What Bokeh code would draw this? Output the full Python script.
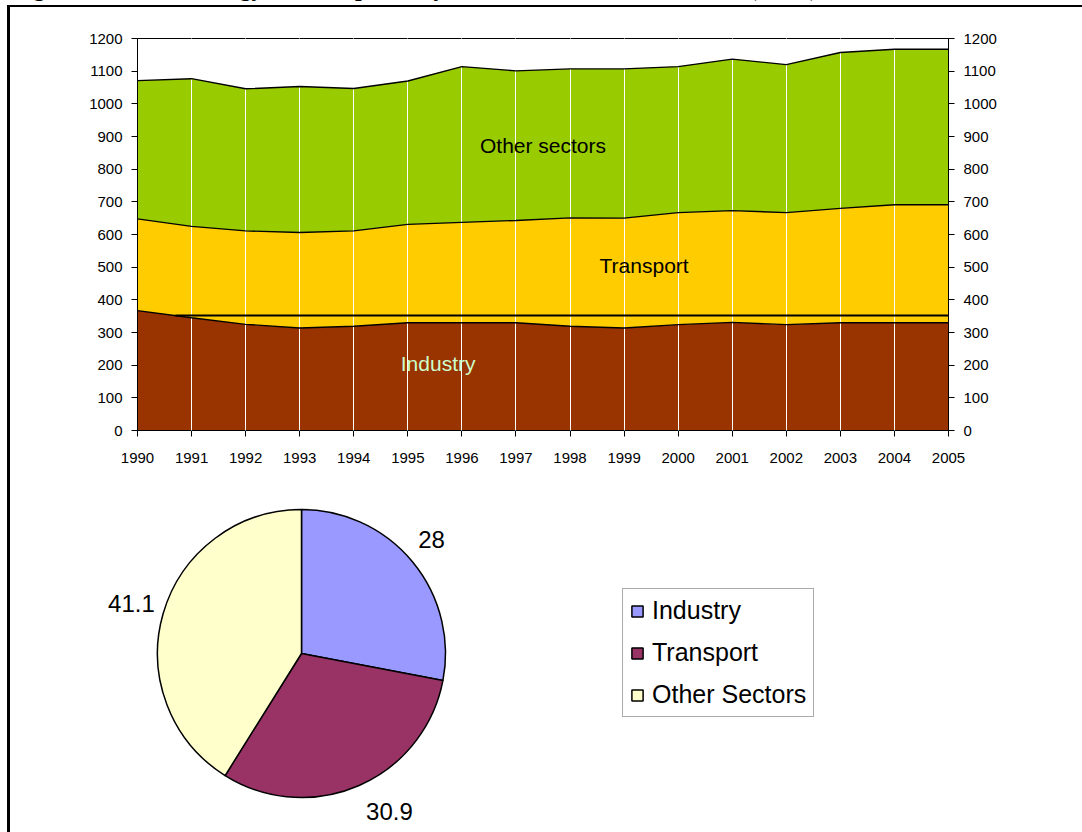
import math
from bokeh.plotting import figure
from bokeh.models import (ColumnDataSource, Range1d, LinearAxis, FixedTicker, Label, LabelSet,
                          Legend, LegendItem, Spacer, Div)
from bokeh.layouts import column, row
from bokeh.core.properties import value
from bokeh.embed import file_html
from bokeh.resources import INLINE

# ---------------- data ----------------
TITLE = "Figure 1.3: Final Energy Consumption, by Sector in EU Member States (Mtoe)"

years = list(range(1990, 2006))
industry = [367, 345, 325, 314, 319, 330, 330, 330, 319, 314, 324, 331, 324, 330, 330, 330]
transport = [281, 280, 286, 292, 292, 301, 307, 313, 332, 336, 343, 342, 343, 350, 361, 361]
other = [423, 452, 435, 447, 436, 439, 477, 458, 456, 457, 447, 464, 453, 477, 476, 476]
y_ticks = list(range(0, 1201, 100))

reference_level = 352          # horizontal reference line value
reference_start_year = 1990.7  # where the reference line begins

pie_names = ["Industry", "Transport", "Other Sectors"]
pie_values = [28, 30.9, 41.1]
pie_value_text = ["28", "30.9", "41.1"]

# ---------------- style ----------------
FONT = "Liberation Sans"
area_colors = ["#993300", "#FFCC00", "#99CC00"]
pie_colors = ["#9999FF", "#993366", "#FFFFCC"]
pie_label_angle_deg = [41.3, -60.9, 163.6]
pie_label_dist = [1.202, 1.256, 1.231]

BORDER_L, BORDER_R = 127, 134   # plot frame margins inside the content column
CONTENT_W = 1072

# ---------------- title strip (clipped at the top of the page) ----------------
title_div = Div(
    text=('<div style="position:absolute;left:12px;top:-25px;white-space:nowrap;'
          'font-family:\'Liberation Serif\';font-weight:bold;font-size:24px;'
          'line-height:27px;color:black;">' + TITLE + '</div>'),
    width=1082, height=5, margin=0, styles={"overflow": "hidden"})

left_bar = Spacer(width=3, height=827, margin=0, styles={"background-color": "black"})
top_bar = Spacer(width=CONTENT_W, height=2, margin=0, styles={"background-color": "black"})

# ---------------- stacked area chart ----------------
src = ColumnDataSource(dict(year=years, industry=industry, transport=transport, other=other))
stackers = ["industry", "transport", "other"]

p = figure(width=CONTENT_W, height=473, x_range=Range1d(years[0], years[-1]),
           y_range=Range1d(y_ticks[0], y_ticks[-1]),
           toolbar_location=None, output_backend="svg",
           min_border_left=BORDER_L, min_border_right=BORDER_R,
           min_border_top=31, min_border_bottom=50,
           outline_line_color="black", outline_line_width=1,
           background_fill_color="white", border_fill_color="white")

p.varea_stack(stackers=stackers, x="year", color=area_colors, source=src)
p.vline_stack(stackers=stackers, x="year", line_color="black", line_width=1.4,
              source=src, level="overlay")
p.segment(x0=[reference_start_year], y0=[reference_level], x1=[years[-1]], y1=[reference_level],
          line_color="black", line_width=2, level="overlay")

p.xgrid.ticker = FixedTicker(ticks=years[1:-1])
p.xgrid.grid_line_color = "white"
p.xgrid.grid_line_width = 1
p.xgrid.level = "guide"
p.ygrid.grid_line_color = None

def style_axis(ax):
    ax.major_label_text_font = FONT
    ax.major_label_text_font_size = "15px"
    ax.major_label_text_color = "black"
    ax.axis_line_color = "black"
    ax.major_tick_line_color = "black"
    ax.major_tick_out = 6
    ax.major_tick_in = 0
    ax.minor_tick_line_color = None

p.xaxis.ticker = FixedTicker(ticks=years)
p.yaxis.ticker = FixedTicker(ticks=y_ticks)
for ax in p.xaxis:
    style_axis(ax)
    ax.major_label_standoff = 16
for ax in p.yaxis:
    style_axis(ax)
    ax.major_label_standoff = 9

ra = LinearAxis(ticker=FixedTicker(ticks=y_ticks))
style_axis(ra)
ra.major_label_standoff = 9
p.add_layout(ra, "right")

p.add_layout(Label(x=1997.5, y=872, text="Other sectors", text_font=FONT, text_font_size="21px",
                   text_align="center", text_baseline="middle", text_color="black"))
p.add_layout(Label(x=1999.37, y=505, text="Transport", text_font=FONT, text_font_size="21px",
                   text_align="center", text_baseline="middle", text_color="black"))
p.add_layout(Label(x=1995.56, y=205, text="Industry", text_font=FONT, text_font_size="21px",
                   text_align="center", text_baseline="middle", text_color="#CCFFCC"))

# ---------------- pie chart ----------------
R_PX = 144.0
PW, PH = CONTENT_W, 352
CX, CY = 291.0, 179.0                        # pie centre inside the figure (px)
total = sum(pie_values)
starts, ends = [], []
cum = 0.0
for v in pie_values:
    a_end = math.pi / 2 - 2 * math.pi * cum / total
    cum += v
    a_start = math.pi / 2 - 2 * math.pi * cum / total
    starts.append(a_start)
    ends.append(a_end)

lx = [d * math.cos(math.radians(a)) for a, d in zip(pie_label_angle_deg, pie_label_dist)]
ly = [d * math.sin(math.radians(a)) for a, d in zip(pie_label_angle_deg, pie_label_dist)]

psrc = ColumnDataSource(dict(name=pie_names, value=pie_values, start=starts, end=ends,
                             color=pie_colors, lx=lx, ly=ly, txt=pie_value_text))

pf = figure(width=PW, height=PH,
            x_range=Range1d(-CX / R_PX, (PW - CX) / R_PX),
            y_range=Range1d(-CY / R_PX, (PH - CY) / R_PX),
            toolbar_location=None, output_backend="svg", min_border=0,
            outline_line_color=None, x_axis_location=None, y_axis_location=None,
            background_fill_color="white", border_fill_color="white")
pf.grid.grid_line_color = None

wr = pf.wedge(x=0, y=0, radius=1, start_angle="start", end_angle="end",
              fill_color="color", line_color="black", line_width=1.5, source=psrc)
pf.text(x="lx", y="ly", text="txt", source=psrc, text_font=value(FONT),
        text_font_size="24px", text_align="center", text_baseline="middle",
        text_color="black")

legend = Legend(items=[LegendItem(label=n, renderers=[wr], index=i) for i, n in enumerate(pie_names)],
                location=(612, 115), padding=7, spacing=13, margin=0,
                glyph_width=14, glyph_height=14, label_standoff=8,
                label_text_font=FONT, label_text_font_size="25px", label_text_color="black",
                border_line_color="#555555", border_line_width=1,
                background_fill_color="white", background_fill_alpha=1.0)
pf.add_layout(legend)

content = column(top_bar, p, row(pf, spacing=0), spacing=0)
body = row(Spacer(width=7, height=827, margin=0), left_bar, content, spacing=0)
root = column(title_div, body, spacing=0)

open("out.html", "w").write(file_html(root, INLINE))
